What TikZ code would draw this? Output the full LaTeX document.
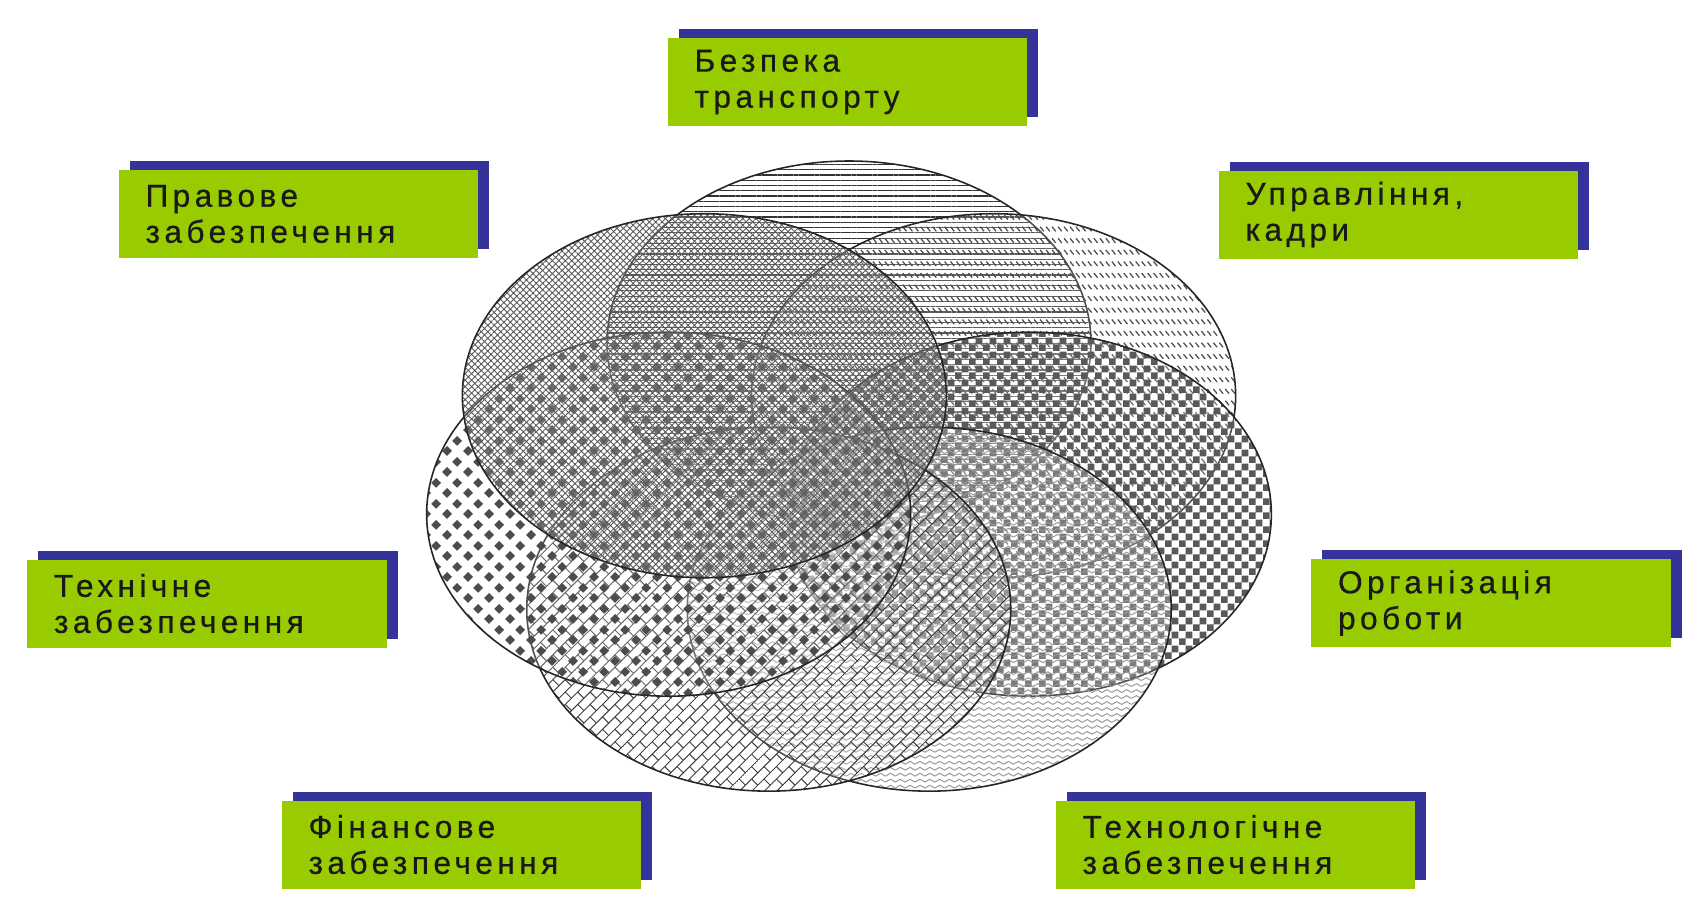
\documentclass[tikz,border=0pt]{standalone}
\usepackage{fontspec}
\newfontfamily\boxfont[LetterSpace=14,FakeBold=0.6]{Liberation Sans}
\usetikzlibrary{patterns,patterns.meta,shadows}

% fills of the rings
\pgfdeclarepattern{
  name=dashrows, type=uncolored,
  bottom left={\pgfpoint{-.1pt}{-.1pt}}, top right={\pgfpoint{3.5pt}{6.7pt}},
  tile size={\pgfpoint{3.4pt}{6.6pt}},
  code={\pgfsetlinewidth{0.7pt}
    \pgfpathmoveto{\pgfpoint{0.4pt}{5.3pt}}\pgfpathlineto{\pgfpoint{2.5pt}{2.7pt}}
    \pgfusepath{stroke}}
}
\pgfdeclarepattern{
  name=bigchecker, type=uncolored,
  bottom left={\pgfpoint{0pt}{0pt}}, top right={\pgfpoint{8pt}{8pt}},
  tile size={\pgfpoint{8pt}{8pt}},
  code={\pgfpathrectangle{\pgfpoint{0pt}{0pt}}{\pgfpoint{4.05pt}{4.05pt}}
    \pgfpathrectangle{\pgfpoint{4pt}{4pt}}{\pgfpoint{4.05pt}{4.05pt}}
    \pgfusepath{fill}}
}
\pgfdeclarepattern{
  name=zigzag, type=uncolored,
  bottom left={\pgfpoint{-.5pt}{-.5pt}}, top right={\pgfpoint{6.1pt}{3.9pt}},
  tile size={\pgfpoint{5.6pt}{3.4pt}},
  code={\pgfsetlinewidth{0.55pt}
    \pgfpathmoveto{\pgfpoint{0pt}{0.8pt}}\pgfpathlineto{\pgfpoint{2.8pt}{2.4pt}}
    \pgfpathlineto{\pgfpoint{5.6pt}{0.8pt}}
    \pgfusepath{stroke}}
}
\pgfdeclarepattern{
  name=diagbrick, type=uncolored,
  bottom left={\pgfpoint{-.3pt}{-.3pt}}, top right={\pgfpoint{10.3pt}{10.3pt}},
  tile size={\pgfpoint{10pt}{10pt}},
  tile transformation={\pgftransformrotate{45}},
  code={\pgfsetlinewidth{0.55pt}
    \pgfpathmoveto{\pgfpoint{0pt}{0pt}}\pgfpathlineto{\pgfpoint{10pt}{0pt}}
    \pgfpathmoveto{\pgfpoint{0pt}{5pt}}\pgfpathlineto{\pgfpoint{10pt}{5pt}}
    \pgfpathmoveto{\pgfpoint{0pt}{0pt}}\pgfpathlineto{\pgfpoint{0pt}{5pt}}
    \pgfpathmoveto{\pgfpoint{5pt}{5pt}}\pgfpathlineto{\pgfpoint{5pt}{10pt}}
    \pgfusepath{stroke}}
}
\pgfdeclarepattern{
  name=diamonds, type=uncolored,
  bottom left={\pgfpoint{0pt}{0pt}}, top right={\pgfpoint{12pt}{12pt}},
  tile size={\pgfpoint{12pt}{12pt}},
  code={\pgfpathmoveto{\pgfpoint{3pt}{0.1pt}}\pgfpathlineto{\pgfpoint{5.9pt}{3pt}}
    \pgfpathlineto{\pgfpoint{3pt}{5.9pt}}\pgfpathlineto{\pgfpoint{0.1pt}{3pt}}\pgfpathclose
    \pgfpathmoveto{\pgfpoint{9pt}{6.1pt}}\pgfpathlineto{\pgfpoint{11.9pt}{9pt}}
    \pgfpathlineto{\pgfpoint{9pt}{11.9pt}}\pgfpathlineto{\pgfpoint{6.1pt}{9pt}}\pgfpathclose
    \pgfusepath{fill}}
}

\begin{document}
\begin{tikzpicture}[x=0.02cm, y=-0.02cm,
    labelbox/.style={fill=boxgreen, inner xsep=0.54cm, inner ysep=0pt, minimum height=1.76cm,
      text width=6.12cm, align=left, text=black!90, font=\boxfont\fontsize{18}{20.5}\selectfont,
      general shadow={fill=boxnavy, shadow xshift=0.22cm, shadow yshift=0.18cm}},
    rim/.style={draw=black!85, line width=0.9pt},
    fillbezpeka/.style={pattern={Lines[angle=0,distance=3pt,line width=0.7pt]}, pattern color=black!80},
    fillupravl/.style={pattern=dashrows, pattern color=black!70},
    fillorg/.style={pattern=bigchecker, pattern color=black!65},
    filltekhnol/.style={pattern=zigzag, pattern color=black!40},
    fillfinans/.style={pattern=diagbrick, pattern color=black!75},
    filltekhn/.style={pattern=diamonds, pattern color=black!70},
    fillpravo/.style={pattern={Hatch[angle=45,distance=2.6pt,line width=0.5pt]}, pattern color=black!65}
  ]

\definecolor{boxgreen}{RGB}{153, 204, 0}
\definecolor{boxnavy}{RGB}{51, 51, 153}

\useasboundingbox (0,0) rectangle (1682,897);

% rings
\foreach \ang/\pat [count=\k] in {-90/fillbezpeka, -38.57/fillupravl, 12.86/fillorg, 64.29/filltekhnol,
    115.71/fillfinans, 167.14/filltekhn, 218.57/fillpravo}
{
  \coordinate (ring\k) at ({849+185*cos(\ang)},{483+140*sin(\ang)});
  \fill[white, fill opacity=.2] (ring\k) ellipse [x radius=242, y radius=182];
  \fill[\pat] (ring\k) ellipse [x radius=242, y radius=182];
  \draw[rim] (ring\k) ellipse [x radius=242, y radius=182];
}

% labels
\node[labelbox] (bezpeka) at (847.5,82) {Безпека\\транспорту};
\node[labelbox] (pravo) at (298.5,214) {Правове\\забезпечення};
\node[labelbox] (upravl) at (1398.5,214.5) {Управління,\\кадри};
\node[labelbox] (tekhn) at (207,603.5) {Технічне\\забезпечення};
\node[labelbox] (org) at (1491,603) {Організація\\роботи};
\node[labelbox] (finans) at (461.5,844.5) {Фінансове\\забезпечення};
\node[labelbox] (tekhnol) at (1235.5,844.5) {Технологічне\\забезпечення};

\end{tikzpicture}
\end{document}
